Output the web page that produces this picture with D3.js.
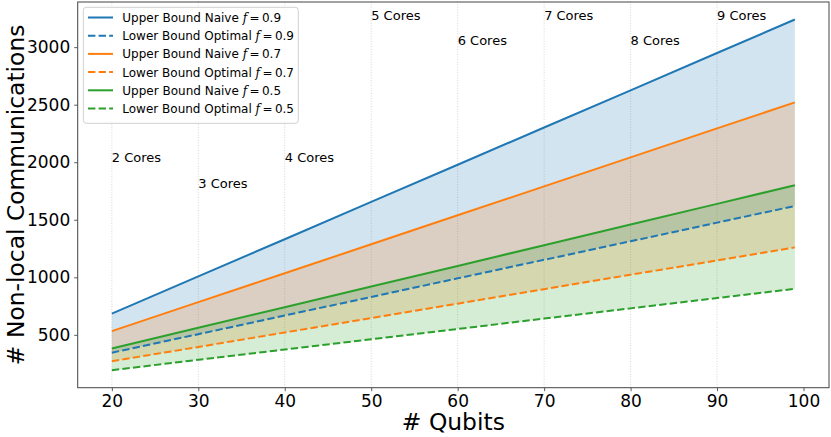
<!DOCTYPE html>
<html><head><meta charset="utf-8">
<script src="https://cdn.jsdelivr.net/npm/d3@7"></script>
<style>
html,body{margin:0;padding:0;background:#fff;}
svg{display:block;font-family:"DejaVu Sans",sans-serif;}
</style></head>
<body><svg id="chart" width="831" height="437"></svg>
<script>
// ---- data ----
const qubits = [20, 30, 40, 50, 60, 70, 80, 90, 99];
const upper09 = [684, 1008, 1331, 1655, 1978, 2302, 2625, 2949, 3240];
const lower09 = [345, 506, 668, 829, 991, 1152, 1313, 1475, 1620];
const upper07 = [532, 784, 1035, 1287, 1539, 1790, 2042, 2294, 2520];
const lower07 = [270, 395, 521, 646, 771, 897, 1022, 1147, 1260];
const upper05 = [381, 561, 740, 920, 1099, 1279, 1459, 1638, 1800];
const lower05 = [193, 283, 372, 462, 551, 641, 730, 820, 900];
const fValues = ["0.9", "0.7", "0.5"];
const colors = ["#1f77b4", "#ff7f0e", "#2ca02c"];
const coreLabels = ["2 Cores","3 Cores","4 Cores","5 Cores","6 Cores","7 Cores","8 Cores","9 Cores"];
const coreX = [20, 30, 40, 50, 60, 70, 80, 90];
const coreY = [2000, 1780, 2000, 3240, 3020, 3240, 3020, 3240];
const xTicks = [20, 30, 40, 50, 60, 70, 80, 90, 100];
const yTicks = [500, 1000, 1500, 2000, 2500, 3000];
const xLabel = "# Qubits";
const yLabel = "# Non-local Communications";

const groups = [
  {f: fValues[0], color: colors[0], up: upper09, lo: lower09},
  {f: fValues[1], color: colors[1], up: upper07, lo: lower07},
  {f: fValues[2], color: colors[2], up: upper05, lo: lower05}
];

// ---- layout ----
const L = 77.7, R = 829, T = 2, B = 387.7;
const svg = d3.select("#chart");
const allVals = [].concat(upper09, lower09, upper07, lower07, upper05, lower05);
const xmin = d3.min(qubits), xmax = d3.max(qubits);
const ymin = d3.min(allVals), ymax = d3.max(allVals);
const xpad = (xmax - xmin) * 0.05, ypad = (ymax - ymin) * 0.05;
const x = d3.scaleLinear().domain([xmin - xpad, xmax + xpad]).range([L, R]);
const y = d3.scaleLinear().domain([ymin - ypad, ymax + ypad]).range([B, T]);

// vertical dotted guide lines
svg.append("g").selectAll("line").data(coreX).join("line")
  .attr("x1", d => x(d)).attr("x2", d => x(d))
  .attr("y1", T).attr("y2", B)
  .attr("stroke", "#cccccc").attr("stroke-width", 0.8)
  .attr("stroke-dasharray", "1,1.6");

// fills
const area = (g) => d3.area()
  .x((d, i) => x(qubits[i]))
  .y0((d, i) => y(g.lo[i]))
  .y1((d, i) => y(g.up[i]));
groups.forEach(g => {
  svg.append("path").datum(g.up).attr("d", area(g))
    .attr("fill", g.color).attr("fill-opacity", 0.2).attr("stroke", "none");
});

// lines
const line = d3.line().x((d, i) => x(qubits[i])).y(d => y(d));
groups.forEach(g => {
  svg.append("path").datum(g.up).attr("d", line)
    .attr("fill", "none").attr("stroke", g.color).attr("stroke-width", 2);
  svg.append("path").datum(g.lo).attr("d", line)
    .attr("fill", "none").attr("stroke", g.color).attr("stroke-width", 2)
    .attr("stroke-dasharray", "7.4,3.2");
});

// core labels
svg.append("g").selectAll("text").data(coreLabels).join("text")
  .attr("x", (d, i) => x(coreX[i])).attr("y", (d, i) => y(coreY[i]))
  .attr("font-size", 13).attr("fill", "#000").text(d => d);

// axes
const xAxis = d3.axisBottom(x).tickValues(xTicks).tickSize(3.5).tickPadding(4).tickFormat(d3.format("d"));
const yAxis = d3.axisLeft(y).tickValues(yTicks).tickSize(3.5).tickPadding(4).tickFormat(d3.format("d"));
const gx = svg.append("g").attr("transform", `translate(0,${B})`).call(xAxis);
const gy = svg.append("g").attr("transform", `translate(${L},0)`).call(yAxis);
[gx, gy].forEach(g => {
  g.select(".domain").remove();
  g.selectAll(".tick line").attr("stroke", "#333").attr("stroke-width", 0.8);
  g.selectAll(".tick text").attr("font-size", 17).attr("fill", "#000")
    .attr("font-family", "DejaVu Sans");
});
// frame
svg.append("rect").attr("x", L).attr("y", T).attr("width", R - L).attr("height", B - T)
  .attr("fill", "none").attr("stroke", "#444").attr("stroke-width", 1);

// axis labels
svg.append("text").attr("x", (L + R) / 2).attr("y", 430)
  .attr("text-anchor", "middle").attr("font-size", 23.4).attr("fill", "#000").text(xLabel);
svg.append("text").attr("transform", `translate(23.5,${(T + B) / 2}) rotate(-90)`)
  .attr("text-anchor", "middle").attr("font-size", 23.4).attr("fill", "#000").text(yLabel);

// legend
const lg = svg.append("g");
lg.append("rect").attr("x", 83.3).attr("y", 7.3).attr("width", 215).attr("height", 116)
  .attr("rx", 3).attr("fill", "#fff").attr("fill-opacity", 0.8)
  .attr("stroke", "#d0d0d0").attr("stroke-width", 1);
const items = [];
groups.forEach(g => {
  items.push({name: "Upper Bound Naive ", f: g.f, color: g.color, dash: null});
  items.push({name: "Lower Bound Optimal ", f: g.f, color: g.color, dash: "7.4,3.2"});
});
items.forEach((it, i) => {
  const cy = 17.5 + i * 18.2;
  lg.append("line").attr("x1", 88).attr("x2", 113).attr("y1", cy).attr("y2", cy)
    .attr("stroke", it.color).attr("stroke-width", 2)
    .attr("stroke-dasharray", it.dash);
  const t = lg.append("text").attr("x", 122.3).attr("y", cy + 4.4)
    .attr("font-size", 12).attr("fill", "#000");
  t.append("tspan").text(it.name);
  t.append("tspan").attr("font-style", "italic").attr("font-family", "DejaVu Serif").text("f");
  t.append("tspan").text("\u2009=\u2009" + it.f);
});
</script>
</body></html>
